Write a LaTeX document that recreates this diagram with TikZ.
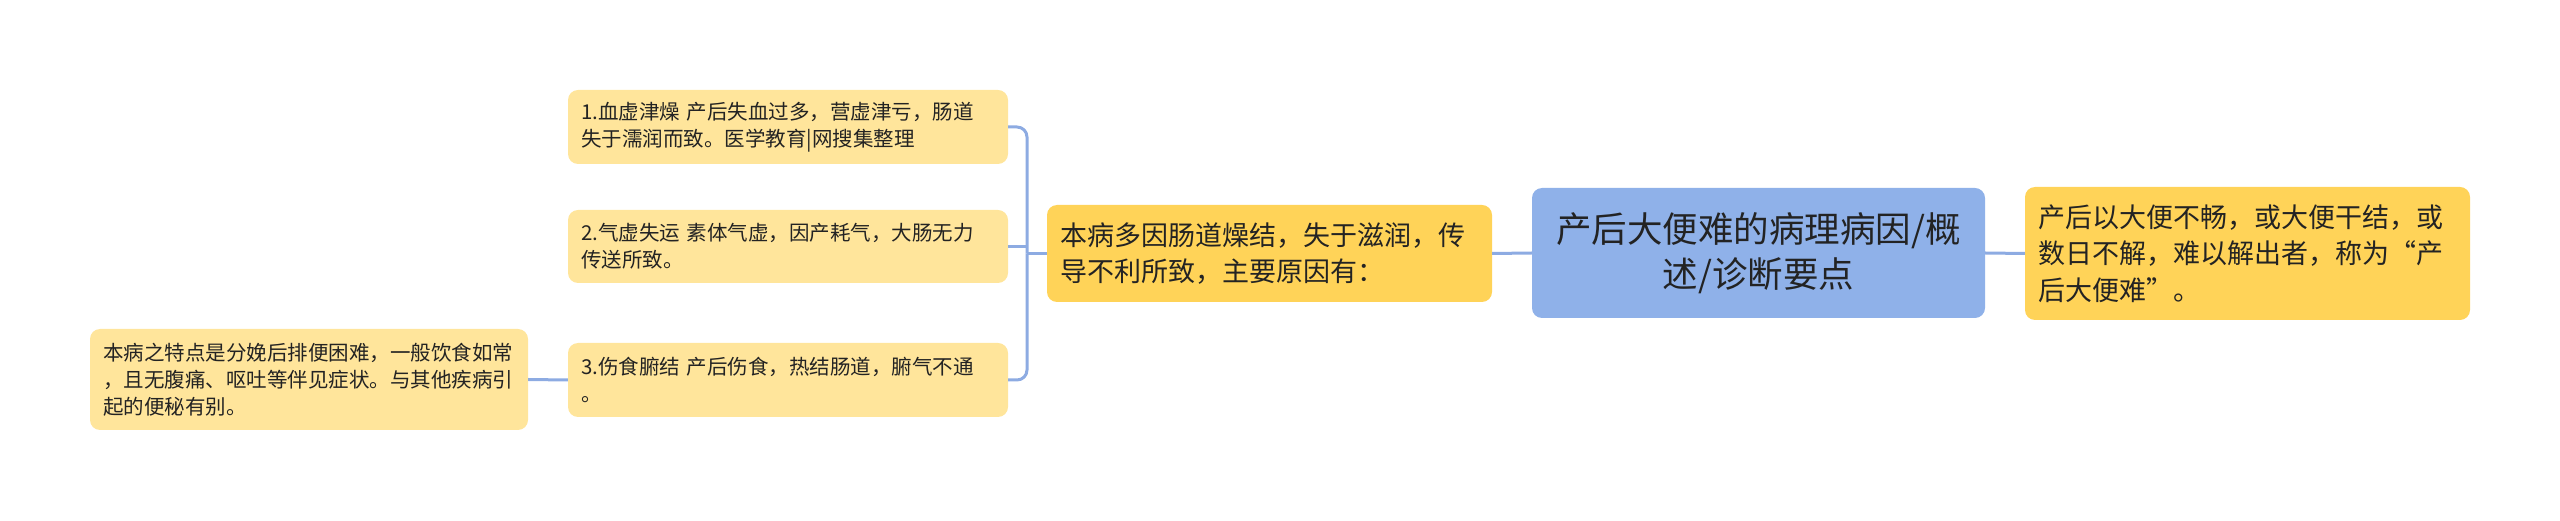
\documentclass[tikz,border=0pt]{standalone}
\usepackage{fontspec}
\setmainfont{Noto Sans CJK SC}
\usepackage{tikz}
\usetikzlibrary{positioning}

\definecolor{rootblue}{RGB}{143,177,233}
\definecolor{midgold}{RGB}{255,211,88}
\definecolor{leafpale}{RGB}{255,229,155}
\definecolor{linkblue}{RGB}{141,171,226}
\definecolor{inkgray}{RGB}{35,35,35}

\begin{document}
\begin{tikzpicture}[line join=round,
  box/.style={rectangle,rounded corners=10bp,draw=none,text=inkgray,
    inner xsep=13bp,inner ysep=3bp,align=left},
  topic/.style={box,fill=rootblue,align=center,
    font=\fontsize{35.5bp}{45bp}\selectfont},
  mainbox/.style={box,fill=midgold,font=\fontsize{27bp}{36.5bp}\selectfont},
  subbox/.style={box,fill=leafpale,font=\fontsize{20.5bp}{27bp}\selectfont},
  link/.style={draw=linkblue,line width=3bp},
]
%%
\useasboundingbox (0bp,0bp) rectangle (2560bp,521bp);
\node (node_root) at (1758.5bp,268bp) [topic,minimum width=453bp,minimum height=130bp,text width=427bp]
  {产后大便难的病理病因/概\\述/诊断要点};
\node (node_def) at (2247.5bp,267.5bp) [mainbox,minimum width=445bp,minimum height=133bp,text width=419bp]
  {产后以大便不畅，或大便干结，或\\数日不解，难以解出者，称为“产\\后大便难”。};
\node (node_cause) at (1269.5bp,267.5bp) [mainbox,minimum width=445bp,minimum height=97bp,text width=419bp]
  {本病多因肠道燥结，失于滋润，传\\导不利所致，主要原因有：};
\node (node_c1) at (788bp,394bp) [subbox,minimum width=440bp,minimum height=74bp,text width=414bp]
  {1.血虚津燥 产后失血过多，营虚津亏，肠道\\失于濡润而致。医学教育|网搜集整理};
\node (node_c2) at (788bp,274.5bp) [subbox,minimum width=440bp,minimum height=73bp,text width=414bp]
  {2.气虚失运 素体气虚，因产耗气，大肠无力\\传送所致。};
\node (node_c3) at (788bp,141bp) [subbox,minimum width=440bp,minimum height=74bp,text width=414bp]
  {3.伤食腑结 产后伤食，热结肠道，腑气不通\\。};
\node (node_leaf) at (309bp,141.5bp) [subbox,minimum width=438bp,minimum height=101bp,text width=412bp]
  {本病之特点是分娩后排便困难，一般饮食如常\\，且无腹痛、呕吐等伴见症状。与其他疾病引\\起的便秘有别。};
\coordinate (fork) at (1027bp,267.5bp);
%
\draw [link] (node_root.east) -- (node_def.west);
\draw [link] (node_root.west) -- (node_cause.east);
\draw [link] (node_cause.west) -- (fork);
\draw [link,rounded corners=10bp] (fork) |- (node_c1.east);
\draw [link] (fork |- node_c2.east) -- (node_c2.east);
\draw [link,rounded corners=10bp] (fork) |- (node_c3.east);
\draw [link] (node_c3.west) -- (node_leaf.east);
%
\end{tikzpicture}
\end{document}
